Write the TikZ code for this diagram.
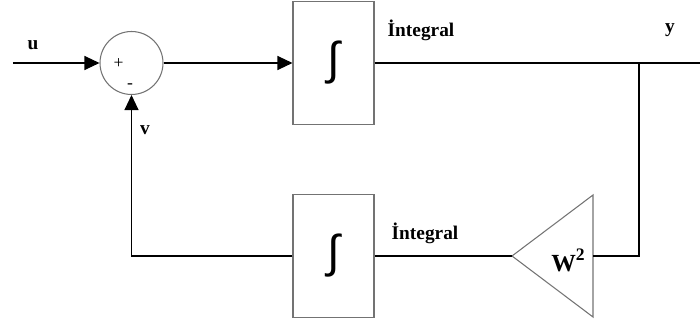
\documentclass[tikz,border=0pt]{standalone}
\usepackage{fontspec}
\setmainfont{Liberation Serif}
\newfontfamily\intfont{Liberation Sans}
\usetikzlibrary{arrows.meta}

\begin{document}
\begin{tikzpicture}[>={Triangle[length=0.3cm,width=0.28cm]},line width=0.6pt]

\tikzset{
	block/.style={draw=gray!90!black,fill=white,minimum width=1.62cm,
		minimum height=2.46cm,inner sep=0pt},
	summer/.style={draw=gray!90!black,circle,minimum size=1.26cm,inner sep=0pt},
	lbl/.style={font=\fontsize{11}{13}\selectfont\bfseries,inner sep=0pt},
	sign/.style={font=\fontsize{10}{12}\selectfont,inner sep=0pt}
}

\useasboundingbox (0,0) rectangle (14,6.44);

\def\integrator{\intfont\fontsize{26}{28}\selectfont ∫}

% forward path
\coordinate (in) at (0.26,5.18);
\node[summer] (sum) at (2.63,5.18) {};
\node[sign] (plus) at (2.37,5.16) {+};
\node[sign] (minus) at (2.60,4.72) {-};
\node[block] (int1) at (6.67,5.18) {\integrator};
\coordinate (branch) at (12.78,5.18);
\coordinate (out) at (14,5.18);

% feedback path
\node[block] (int2) at (6.67,1.32) {\integrator};
\coordinate (tip) at (10.24,1.32);
\coordinate (base) at (11.86,1.32);
\draw[gray!90!black] (tip) -- (11.86,2.54) -- (11.86,0.10) -- cycle;
\node[font=\fontsize{14}{16}\selectfont\bfseries,inner sep=0pt] (gain)
	at (11.36,1.24) {W\raisebox{0.45em}{\fontsize{10}{12}\selectfont 2}};

% labels
\node[lbl] (ulbl) at (0.66,5.54) {u};
\node[lbl] (vlbl) at (2.90,3.84) {v};
\node[lbl] (ylbl) at (13.40,5.84) {y};
\node[lbl] (i1lbl) at (8.42,5.84) {İntegral};
\node[lbl] (i2lbl) at (8.50,1.78) {İntegral};

% connectors
\draw[->] (in) -- (sum);
\draw[->] (sum) -- (int1);
\draw (int1) -- (out);
\draw (branch) |- (base);
\draw (tip) -- (int2);
\draw[->] (int2) -| (sum);

\end{tikzpicture}
\end{document}
